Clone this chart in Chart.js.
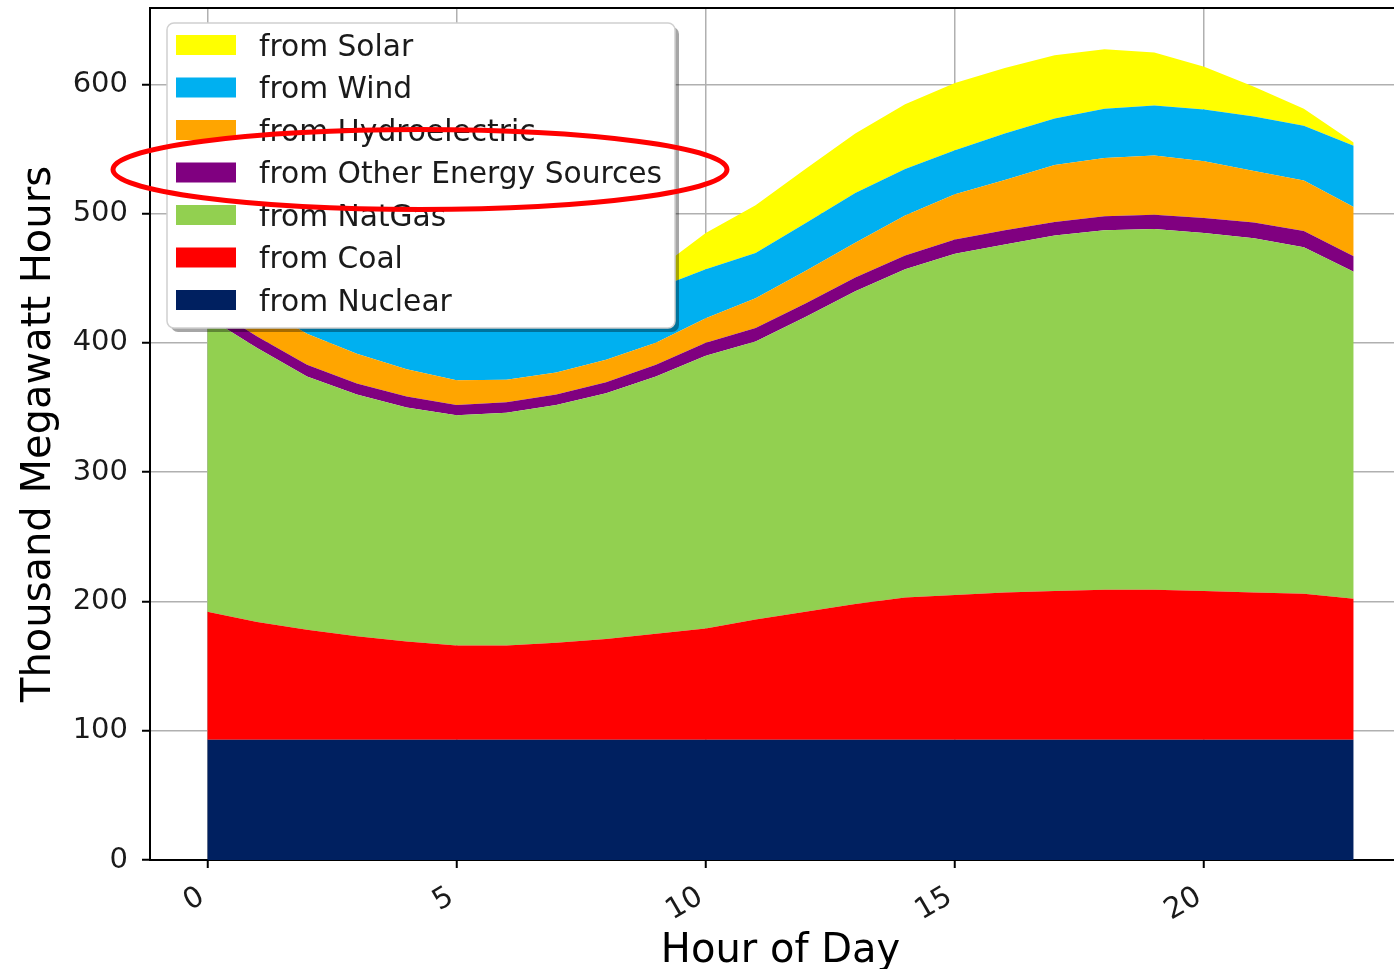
<!DOCTYPE html>
<html>
<head>
<meta charset="utf-8">
<script src="https://cdn.jsdelivr.net/npm/chart.js@4.4.1/dist/chart.umd.min.js"></script>
<style>
  html, body { margin: 0; padding: 0; background: #fff; overflow: hidden; }
  #wrap { position: relative; width: 1420px; height: 969px; }
</style>
</head>
<body>
<div id="wrap"><canvas id="chart-energia"></canvas></div>
<script>
/*
  ==================================================
  ===================== DATA =======================
  ==================================================
*/

let hours = [0, 1, 2, 3, 4, 5, 6, 7, 8, 9, 10, 11, 12, 13, 14, 15, 16, 17, 18, 19, 20, 21, 22, 23];

let nuclear = [93, 93, 93, 93, 93, 93, 93, 93, 93, 93, 93, 93, 93, 93, 93, 93, 93, 93, 93, 93, 93, 93, 93, 93];
let coal = [99, 91, 85, 80, 76, 73, 73, 75, 78, 82, 86, 93, 99, 105, 110, 112, 114, 115, 116, 116, 115, 114, 113, 109];
let natGas = [228, 212, 196, 187, 181, 178, 180, 184, 190, 199, 211, 215, 228, 242, 254, 264, 269, 275, 278, 279, 277, 274, 268, 253];
let other = [9, 9, 9, 8.5, 8.5, 8, 8, 8, 8.5, 9, 10, 10.5, 10.5, 10.5, 10.5, 11, 11, 10.5, 11, 11, 11.5, 12, 12.5, 12];
let hydro = [24, 24, 24, 23, 21, 19, 17.5, 17, 17.5, 17, 19, 23, 25, 27, 31, 35, 39, 44, 45, 46, 44, 40, 39, 38];
let wind = [48, 48, 48, 47, 47, 46, 45, 44, 43, 42, 38, 35, 37, 38.5, 36, 34, 36, 36, 38, 38.5, 40, 42, 42.5, 47.5];
let solar = [0, 0, 0, 0, 0, 0, 0.5, 2, 6, 14, 28, 37, 42, 46, 50, 52, 50.5, 49, 46, 41, 33, 23, 13, 2.5];

let seriesLabels = ['from Nuclear', 'from Coal', 'from NatGas', 'from Other Energy Sources', 'from Hydroelectric', 'from Wind', 'from Solar'];
let seriesColors = ['#002060', '#ff0000', '#92d050', '#800080', '#ffa500', '#00b0f0', '#ffff00'];

let xTicks = [0, 5, 10, 15, 20];
let yTicks = [0, 100, 200, 300, 400, 500, 600];

let xTitle = 'Hour of Day';
let yTitle = 'Thousand Megawatt Hours';
let markedLabel = 'from Other Energy Sources';

/*
  ==================================================
  =================== OVERLAY ======================
  ==================================================
*/

let FONT = 'DejaVu Sans';

let overlay = {
  id: 'overlay',
  afterDraw(chart) {
    let { ctx, chartArea } = chart;
    ctx.save();

    // marco superior / derecho
    ctx.strokeStyle = '#000';
    ctx.lineWidth = 2;
    ctx.beginPath();
    ctx.moveTo(chartArea.left, chartArea.top);
    ctx.lineTo(chartArea.right, chartArea.top);
    ctx.lineTo(chartArea.right, chartArea.bottom);
    ctx.stroke();

    // leyenda (orden inverso)
    let bx = chartArea.left + 17, by = chartArea.top + 15, bw = 508, bh = 305;
    ctx.fillStyle = 'rgba(0,0,0,0.35)';
    ctx.beginPath();
    ctx.roundRect(bx + 4, by + 4, bw, bh, 7);
    ctx.fill();
    ctx.fillStyle = '#fff';
    ctx.strokeStyle = '#d0d0d0';
    ctx.lineWidth = 1.5;
    ctx.beginPath();
    ctx.roundRect(bx, by, bw, bh, 7);
    ctx.fill();
    ctx.stroke();

    let sets = chart.data.datasets.slice().reverse();
    let markY = null;
    ctx.font = '29.7px "' + FONT + '"';
    ctx.textBaseline = 'middle';
    sets.forEach((ds, i) => {
      let ry = by + 22 + i * 42.5;
      ctx.fillStyle = ds.backgroundColor;
      ctx.fillRect(bx + 9, ry - 10, 60, 20);
      ctx.fillStyle = '#1a1a1a';
      ctx.fillText(ds.label, bx + 92, ry + 3);
      if (ds.label == markedLabel) markY = ry;
    });

    // elipse roja
    if (markY != null) {
      ctx.strokeStyle = '#f00';
      ctx.lineWidth = 5;
      ctx.beginPath();
      ctx.ellipse(bx + 253, markY - 3, 307, 40, 0, 0, Math.PI * 2);
      ctx.stroke();
    }

    ctx.restore();
  }
};

/*
  ==================================================
  ==================== CHART =======================
  ==================================================
*/

let series = [nuclear, coal, natGas, other, hydro, wind, solar];

let datasets = series.map((values, i) => ({
  label: seriesLabels[i],
  data: hours.map((h, j) => ({ x: h, y: values[j] })),
  backgroundColor: seriesColors[i],
  borderWidth: 0,
  pointRadius: 0,
  tension: 0,
  fill: i == 0 ? 'origin' : '-1'
}));

let ctxE = document.getElementById('chart-energia').getContext('2d');

let chart = new Chart(ctxE, {
  type: 'line',
  data: { datasets },
  plugins: [overlay],
  options: {
    responsive: true,
    maintainAspectRatio: false,
    animation: false,
    layout: { padding: { top: 8, right: 9, left: 0, bottom: 0 } },
    plugins: {
      legend: { display: false },
      tooltip: { enabled: false }
    },
    scales: {
      x: {
        type: 'linear',
        min: -1.15,
        max: 24.15,
        z: 1,
        afterBuildTicks: s => { s.ticks = xTicks.map(v => ({ value: v })); },
        afterFit: s => { s.height = 109; s.paddingLeft = 0; s.paddingRight = 0; },
        grid: { color: '#b0b0b0', lineWidth: 1.5, tickColor: '#000', tickLength: 8, tickWidth: 2 },
        border: { color: '#000', width: 2 },
        ticks: {
          font: { family: FONT, size: 29 },
          color: '#1a1a1a',
          minRotation: 30,
          maxRotation: 30,
          padding: 12,
          labelOffset: -5
        },
        title: {
          display: true,
          text: xTitle,
          color: '#000',
          font: { family: FONT, size: 40, lineHeight: 0.75 },
          padding: { top: 0, bottom: 2 }
        }
      },
      y: {
        stacked: true,
        min: 0,
        max: 659,
        z: 1,
        afterBuildTicks: s => { s.ticks = yTicks.map(v => ({ value: v })); },
        afterFit: s => { s.width = 150; s.paddingTop = 0; s.paddingBottom = 0; },
        grid: { color: '#b0b0b0', lineWidth: 1.5, tickColor: '#000', tickLength: 8, tickWidth: 2 },
        border: { color: '#000', width: 2 },
        ticks: {
          font: { family: FONT, size: 29 },
          color: '#1a1a1a',
          padding: 14
        },
        title: {
          display: true,
          text: yTitle,
          color: '#000',
          font: { family: FONT, size: 40, lineHeight: 1.2 },
          padding: { top: 16, bottom: 0 }
        }
      }
    }
  }
});
</script>
</body>
</html>
